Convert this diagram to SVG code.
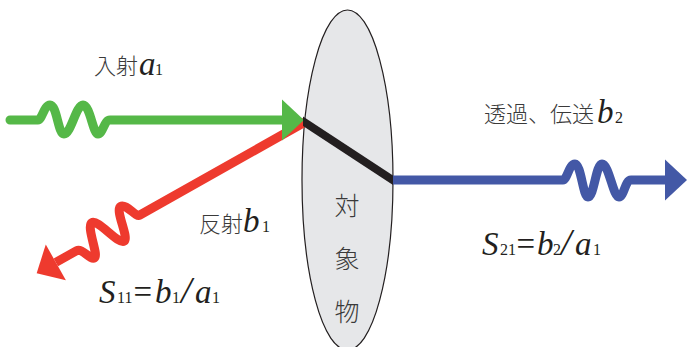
<svg xmlns="http://www.w3.org/2000/svg" width="687" height="347" viewBox="0 0 687 347">
<style>
.w{fill:none;stroke-width:9;stroke-linejoin:round}
.cjk{font-family:"Noto Sans CJK JP","Noto Sans CJK SC",sans-serif;font-size:22px;fill:#3a3a3a;font-weight:300}
.m{font-family:"Liberation Serif",serif;font-size:33px;font-style:italic;fill:#231f20}
.s{font-family:"Liberation Serif",serif;font-size:16px;font-style:normal;fill:#231f20}
.u{font-family:"Liberation Serif",serif;font-size:33px;font-style:normal;fill:#231f20}
.sl{font-family:"Liberation Serif",serif;font-size:38px;font-style:italic;fill:#231f20}
</style>
<defs>
<marker id="ag" markerUnits="userSpaceOnUse" markerWidth="24" markerHeight="42" refX="0" refY="21" orient="auto" overflow="visible"><path d="M0,0.5 L22,21 L0,41.5 Z" fill="#55b848"/></marker>
<marker id="ar" markerUnits="userSpaceOnUse" markerWidth="24" markerHeight="42" refX="0" refY="21" orient="auto" overflow="visible"><path d="M0,0.5 L22,21 L0,41.5 Z" fill="#ee3a2e"/></marker>
<marker id="ab" markerUnits="userSpaceOnUse" markerWidth="24" markerHeight="42" refX="0" refY="21" orient="auto" overflow="visible"><path d="M0,0.5 L22,21 L0,41.5 Z" fill="#4358a6"/></marker>
</defs>
<g id="object">
<ellipse cx="347.5" cy="180" rx="45.5" ry="170" fill="#e6e7e9" stroke="#231f20" stroke-width="1.2"/>
<text class="cjk" text-anchor="middle" x="347" y="215" style="font-size:25px">対</text>
<text class="cjk" text-anchor="middle" x="347" y="268" style="font-size:25px">象</text>
<text class="cjk" text-anchor="middle" x="347" y="321" style="font-size:25px">物</text>
</g>
<g id="connectors">
<path id="reflect" class="w" stroke="#ee3a2e" transform="translate(305,122) rotate(150.6)" d="M0,0 H190 C194,0 196,17 202,17 C209,17 210,-15 216,-15 C223,-15 228,17 235,17 C242,17 245,-15 250,-15 C255,-15 256,0 262,0 H286" marker-end="url(#ar)"/>
<path id="incident" class="w" stroke="#55b848" stroke-linecap="round" d="M10,120 H38 C42,120 44,105 50,105 C57,105 58,134 64,134 C71,134 76,105 83,105 C90,105 93,134 98,134 C103,134 104,120 110,120 H282" marker-end="url(#ag)"/>
<path id="inside" d="M303,116.5 L393,175.5 L393,185 L303,126 Z" fill="#231f20"/>
<path id="transmit" class="w" stroke="#4358a6" d="M393,180 H563 C567,180 569,164 575,164 C581,164 583,197 588,197 C594,197 596,164 602,164 C609,164 613,197 619,197 C624,197 625,180 631,180 H665" marker-end="url(#ab)"/>
</g>
<g id="label-incident">
<text class="cjk" x="94" y="73.5">入射</text>
<text class="m" x="139" y="75">a</text><text class="s" x="155" y="75">1</text>
</g>
<g id="label-reflect">
<text class="cjk" x="199" y="231.5">反射</text>
<text class="m" x="243" y="232">b</text><text class="s" x="262" y="232">1</text>
</g>
<g id="label-transmit">
<text class="cjk" x="484" y="121.5">透過、伝送</text>
<text class="m" x="597" y="123">b</text><text class="s" x="615" y="123">2</text>
</g>
<g id="label-s11">
<text class="m" x="99" y="303">S</text><text class="s" x="117" y="303">11</text><text class="u" x="133.5" y="303">=</text><text class="m" x="155" y="303">b</text><text class="s" x="172" y="303">1</text><text class="sl" x="181" y="303">/</text><text class="m" x="195" y="303">a</text><text class="s" x="212" y="303">1</text>
</g>
<g id="label-s21">
<text class="m" x="482" y="255">S</text><text class="s" x="500" y="255">21</text><text class="u" x="516.5" y="255">=</text><text class="m" x="537" y="255">b</text><text class="s" x="553" y="255">2</text><text class="sl" x="561" y="255">/</text><text class="m" x="575" y="255">a</text><text class="s" x="593" y="255">1</text>
</g>
</svg>
